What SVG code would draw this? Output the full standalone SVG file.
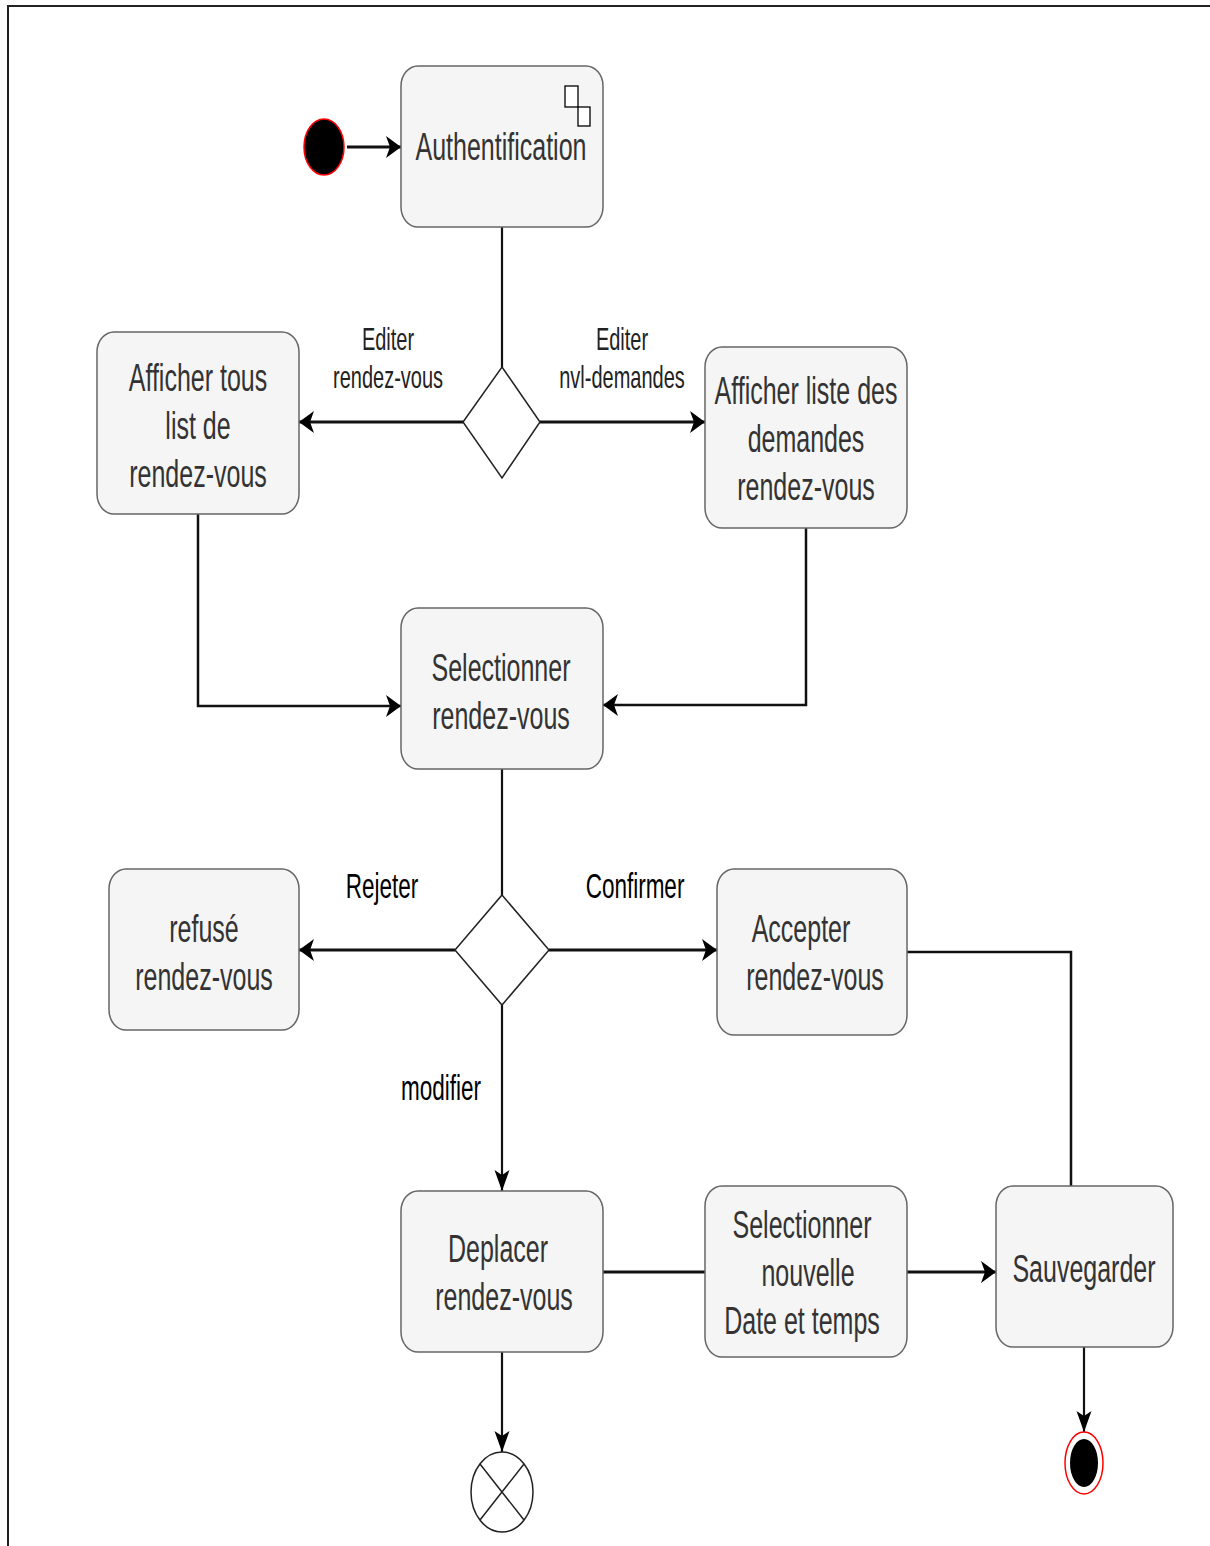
<svg xmlns="http://www.w3.org/2000/svg" width="1210" height="1546" viewBox="0 0 1210 1546">
  <style>
    .act { fill: #f5f5f5; stroke: #666666; stroke-width: 1.5; }
    .lbl { font-family: "Liberation Sans", Arial, sans-serif; font-size: 25px; fill: #333333; text-anchor: middle; }
    .elbl { font-family: "Liberation Sans", Arial, sans-serif; font-size: 20px; fill: #222222; text-anchor: middle; }
    .glbl { font-family: "Liberation Sans", Arial, sans-serif; font-size: 22.5px; fill: #000000; text-anchor: middle; }
    .edge { fill: none; stroke: #111111; stroke-width: 2.5; }
    .edge.h { stroke-width: 3.2; }
    .edge.v { stroke-width: 2.2; }
    .gate { fill: #ffffff; stroke: #222222; stroke-width: 1.5; }
  </style>
  <defs>
    <!-- arrowheads: horizontal flows get a tall head, vertical flows a long one -->
    <marker id="arrH" markerUnits="userSpaceOnUse" markerWidth="16" markerHeight="22" refX="15" refY="11" orient="auto" overflow="visible">
      <path d="M0,0 L15,11 L0,22 L4,11 Z" fill="#000000"/>
    </marker>
    <marker id="arrV" markerUnits="userSpaceOnUse" markerWidth="22" markerHeight="16" refX="21" refY="8" orient="auto" overflow="visible">
      <path d="M0,0.5 L21,8 L0,15.5 L5,8 Z" fill="#000000"/>
    </marker>
  </defs>

  <rect width="1210" height="1546" fill="#ffffff"/>
  <!-- frame -->
  <path d="M8,1546 L8,6 L1210,6" fill="none" stroke="#222222" stroke-width="2"/>

  <g id="connectors">
    <path class="edge h" d="M347,147 L401,147" marker-end="url(#arrH)"/>
    <path class="edge v" d="M502,227 L502,367"/>
    <path class="edge h" d="M463,422 L299,422" marker-end="url(#arrH)"/>
    <path class="edge h" d="M540,422 L705,422" marker-end="url(#arrH)"/>
    <path class="edge" d="M198,514 L198,706 L401,706" marker-end="url(#arrH)"/>
    <path class="edge" d="M806,528 L806,705 L603,705" marker-end="url(#arrH)"/>
    <path class="edge v" d="M502,769 L502,895"/>
    <path class="edge h" d="M455,950 L299,950" marker-end="url(#arrH)"/>
    <path class="edge h" d="M549,950 L717,950" marker-end="url(#arrH)"/>
    <path class="edge" d="M907,952 L1071,952 L1071,1186"/>
    <path class="edge v" d="M502,1005 L502,1191" marker-end="url(#arrV)"/>
    <path class="edge h" d="M603,1272 L705,1272"/>
    <path class="edge h" d="M907,1272 L996,1272" marker-end="url(#arrH)"/>
    <path class="edge v" d="M1084,1347 L1084,1432" marker-end="url(#arrV)"/>
    <path class="edge v" d="M502,1352 L502,1452" marker-end="url(#arrV)"/>

    <!-- guard labels -->
    <text class="elbl" transform="translate(388,350) scale(1,1.58)">Editer<tspan x="0" dy="24">rendez-vous</tspan></text>
    <text class="elbl" transform="translate(622,350) scale(1,1.58)">Editer<tspan x="0" dy="24">nvl-demandes</tspan></text>
    <text class="glbl" transform="translate(382,898) scale(1,1.56)">Rejeter</text>
    <text class="glbl" transform="translate(635,898) scale(1,1.56)">Confirmer</text>
    <text class="glbl" transform="translate(441,1100) scale(1,1.56)">modifier</text>
  </g>

  <g id="start">
    <ellipse cx="324" cy="147" rx="20" ry="28" fill="#000000" stroke="#ff0000" stroke-width="1.5"/>
  </g>

  <g id="authentification">
    <rect class="act" x="401" y="66" width="202" height="161" rx="17" ry="20"/>
    <rect x="565" y="86" width="13" height="21" fill="#ffffff" stroke="#000000" stroke-width="1.3"/>
    <rect x="578" y="107" width="12" height="19" fill="#ffffff" stroke="#000000" stroke-width="1.3"/>
    <text class="lbl" transform="translate(501,160) scale(1,1.56)">Authentification</text>
  </g>

  <g id="decision1">
    <path class="gate" d="M502,367 L540,422 L502,478 L463,422 Z"/>
  </g>

  <g id="afficher-tous">
    <rect class="act" x="97" y="332" width="202" height="182" rx="17" ry="20"/>
    <text class="lbl" transform="translate(198,391) scale(1,1.56)">Afficher tous<tspan x="0" dy="30.77">list de</tspan><tspan x="0" dy="30.77">rendez-vous</tspan></text>
  </g>

  <g id="afficher-liste">
    <rect class="act" x="705" y="347" width="202" height="181" rx="17" ry="20"/>
    <text class="lbl" transform="translate(806,404) scale(1,1.56)">Afficher liste des<tspan x="0" dy="30.77">demandes</tspan><tspan x="0" dy="30.77">rendez-vous</tspan></text>
  </g>

  <g id="selectionner">
    <rect class="act" x="401" y="608" width="202" height="161" rx="17" ry="20"/>
    <text class="lbl" transform="translate(501,681) scale(1,1.56)">Selectionner<tspan x="0" dy="30.77">rendez-vous</tspan></text>
  </g>

  <g id="decision2">
    <path class="gate" d="M502,895 L549,950 L502,1005 L455,950 Z"/>
  </g>

  <g id="refuse">
    <rect class="act" x="109" y="869" width="190" height="161" rx="17" ry="20"/>
    <text class="lbl" transform="translate(204,942) scale(1,1.56)">refusé<tspan x="0" dy="30.77">rendez-vous</tspan></text>
  </g>

  <g id="accepter">
    <rect class="act" x="717" y="869" width="190" height="166" rx="17" ry="20"/>
    <text class="lbl" transform="translate(801,942) scale(1,1.56)">Accepter</text>
    <text class="lbl" transform="translate(815,990) scale(1,1.56)">rendez-vous</text>
  </g>

  <g id="deplacer">
    <rect class="act" x="401" y="1191" width="202" height="161" rx="17" ry="20"/>
    <text class="lbl" transform="translate(498,1262) scale(1,1.56)">Deplacer</text>
    <text class="lbl" transform="translate(504,1310) scale(1,1.56)">rendez-vous</text>
  </g>

  <g id="nouvelle-date">
    <rect class="act" x="705" y="1186" width="202" height="171" rx="17" ry="20"/>
    <text class="lbl" transform="translate(802,1238) scale(1,1.56)">Selectionner</text>
    <text class="lbl" transform="translate(808,1286) scale(1,1.56)">nouvelle</text>
    <text class="lbl" transform="translate(802,1334) scale(1,1.56)">Date et temps</text>
  </g>

  <g id="sauvegarder">
    <rect class="act" x="996" y="1186" width="177" height="161" rx="17" ry="20"/>
    <text class="lbl" transform="translate(1084,1282) scale(1,1.56)">Sauvegarder</text>
  </g>

  <g id="flow-final">
    <ellipse cx="502" cy="1492" rx="31" ry="40" fill="#ffffff" stroke="#222222" stroke-width="1.5"/>
    <path d="M480,1464 L524,1520 M524,1464 L480,1520" stroke="#222222" stroke-width="1.5"/>
  </g>

  <g id="end">
    <ellipse cx="1084" cy="1463" rx="19" ry="31" fill="#ffffff" stroke="#ff0000" stroke-width="1.5"/>
    <ellipse cx="1084" cy="1463" rx="14" ry="24" fill="#000000"/>
  </g>
</svg>
